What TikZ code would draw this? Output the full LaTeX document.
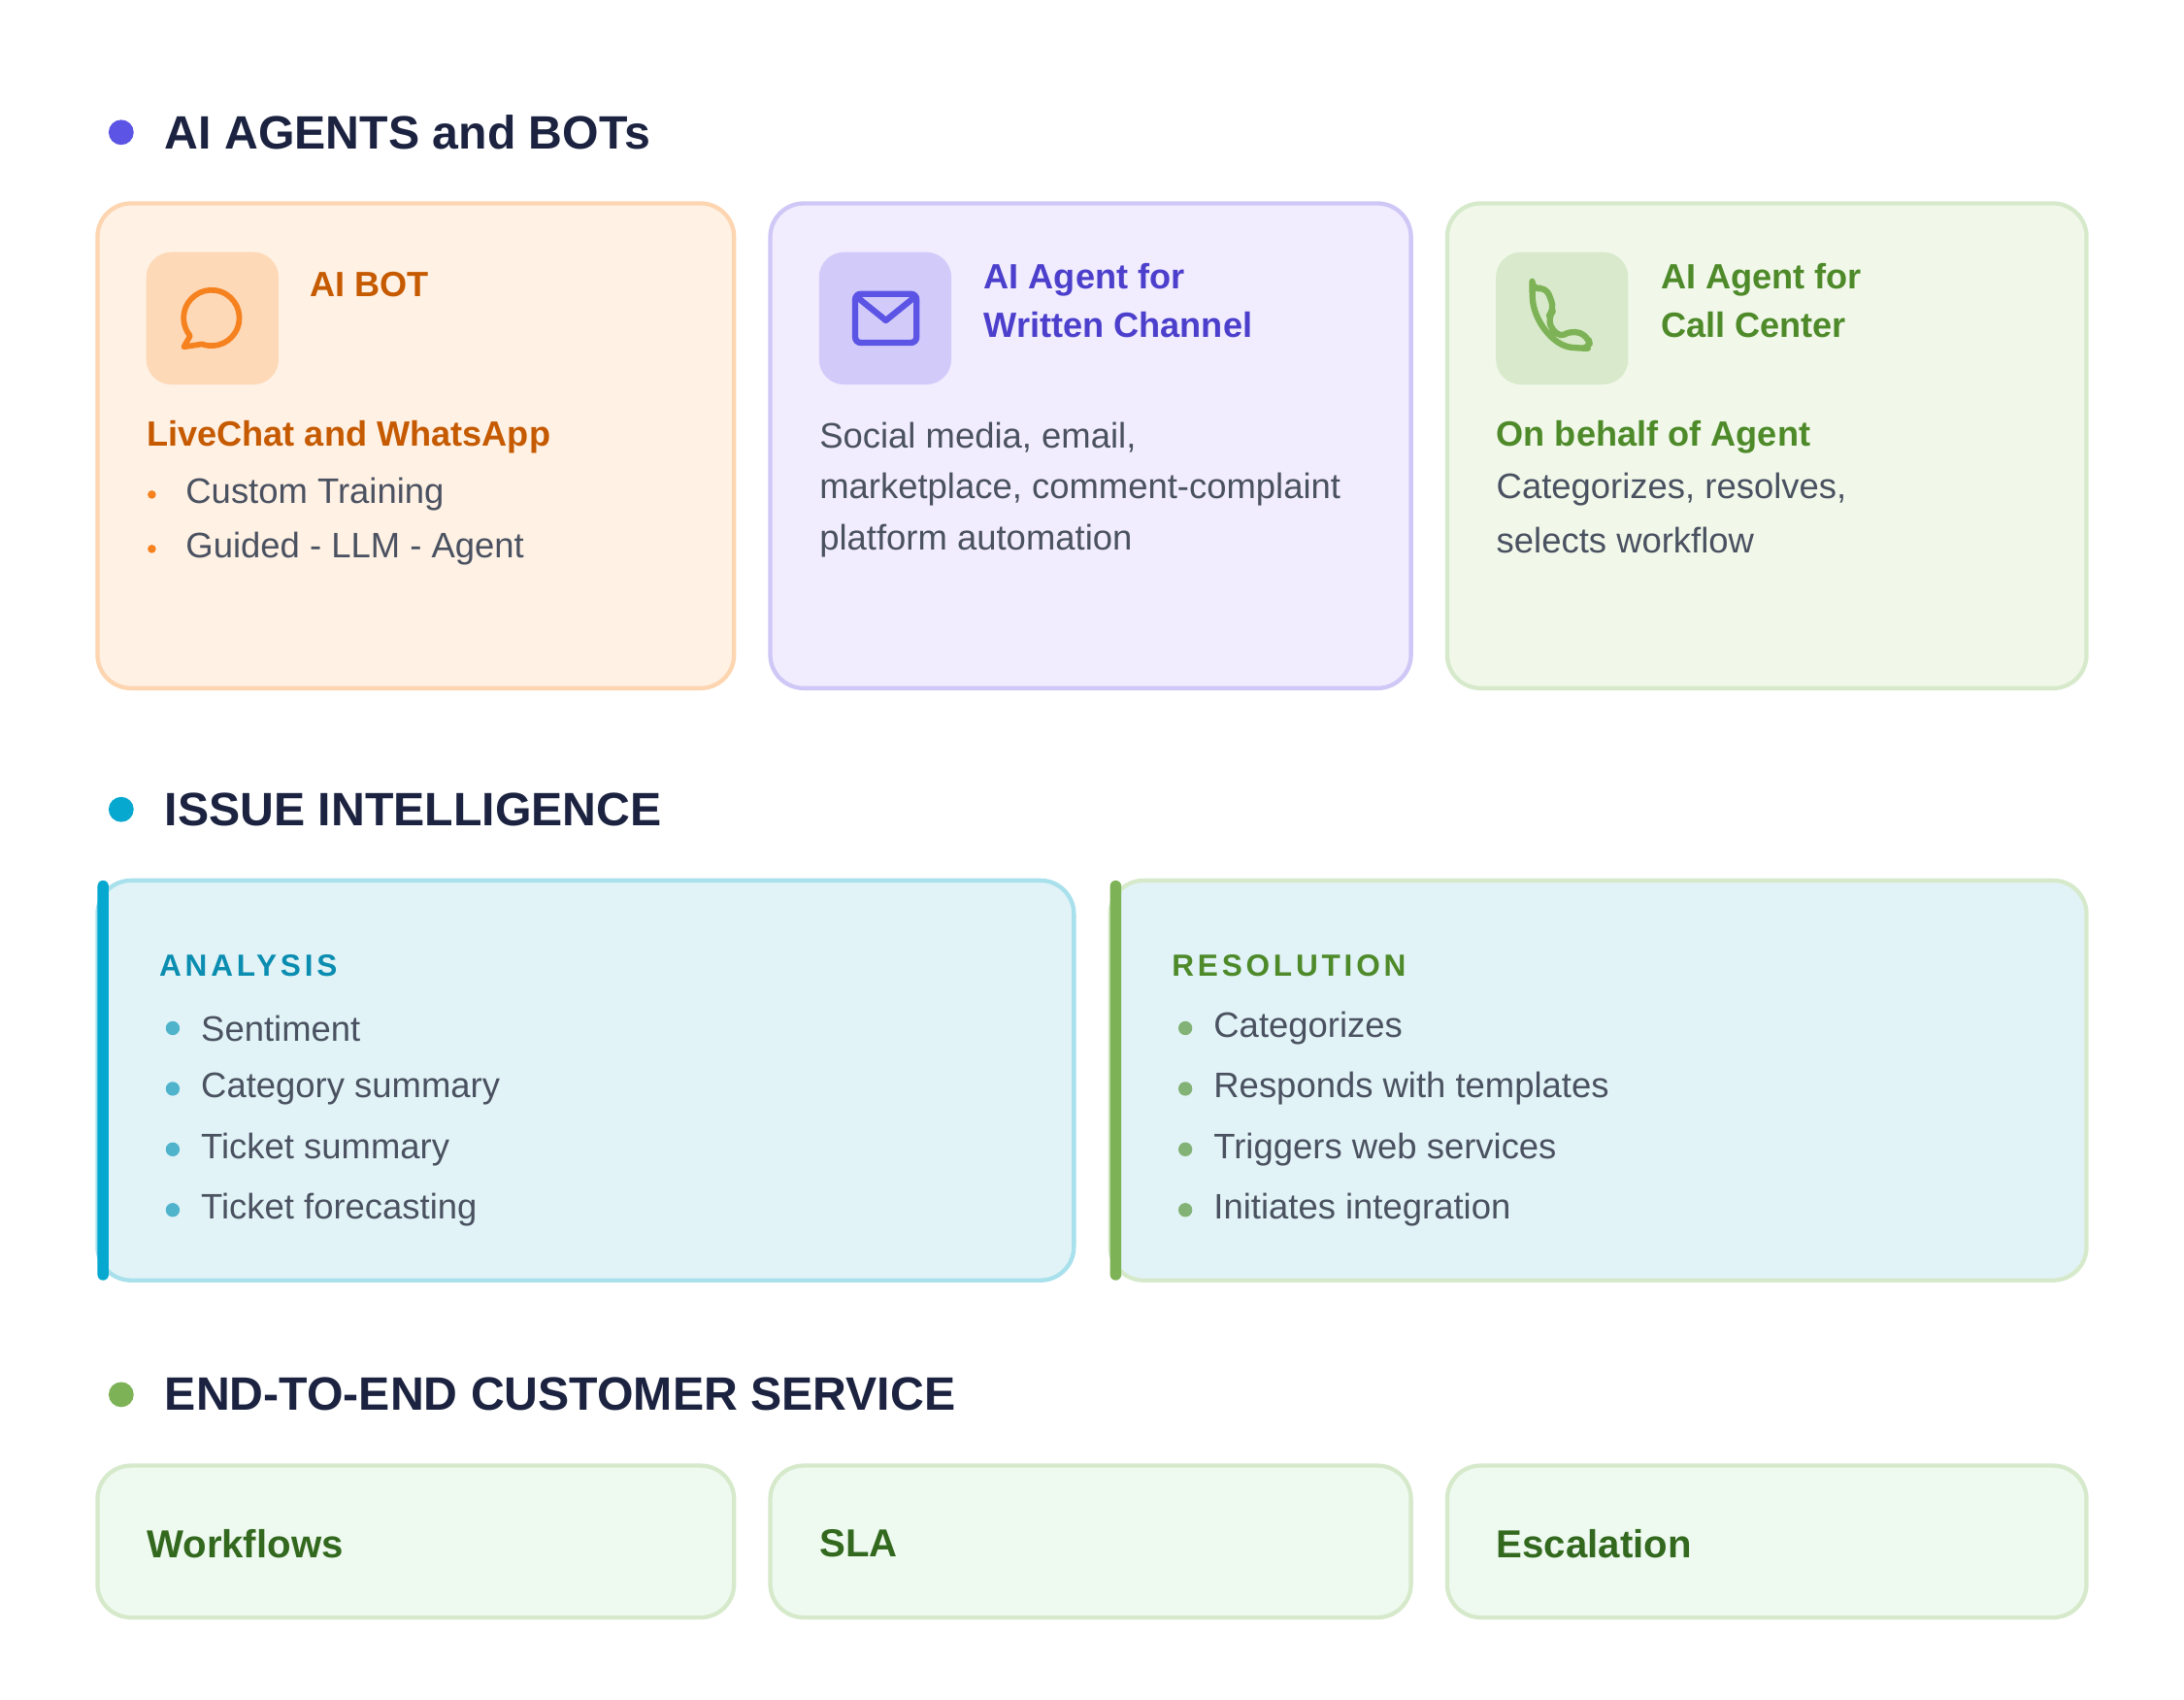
\documentclass[tikz,border=0pt]{standalone}
\usepackage{fontspec}
\setmainfont{Liberation Sans}
\usetikzlibrary{positioning}

\definecolor{headc}{HTML}{1C2340}
\definecolor{textc}{HTML}{4A5160}
\definecolor{orfill}{HTML}{FFF1E4}
\definecolor{ordraw}{HTML}{FDD5B0}
\definecolor{oricon}{HTML}{FDD9B8}
\definecolor{orline}{HTML}{F5821F}
\definecolor{ortext}{HTML}{C55A00}
\definecolor{pufill}{HTML}{F1ECFE}
\definecolor{pudraw}{HTML}{CFC8F7}
\definecolor{puicon}{HTML}{D2CBFA}
\definecolor{puline}{HTML}{5B54E5}
\definecolor{putext}{HTML}{4B3FCC}
\definecolor{grfill}{HTML}{F1F8EA}
\definecolor{grdraw}{HTML}{D6EACB}
\definecolor{gricon}{HTML}{D8EACB}
\definecolor{grline}{HTML}{7DB356}
\definecolor{grtext}{HTML}{4E8A2A}
\definecolor{cyfill}{HTML}{E1F3F7}
\definecolor{cydraw}{HTML}{A8E0EC}
\definecolor{cybar}{HTML}{06A8D0}
\definecolor{cytext}{HTML}{0A8DB0}
\definecolor{cydot}{HTML}{4FB3CC}
\definecolor{gndot}{HTML}{83B277}
\definecolor{e2efill}{HTML}{EEFAF0}
\definecolor{e2etext}{HTML}{33691E}

\tikzset{
  card/.style={rounded corners=12pt, line width=1.5pt},
  iconbox/.style={rounded corners=9pt},
  heading/.style={anchor=west, font=\fontsize{16.8}{19}\selectfont\bfseries, text=headc, inner sep=0},
  title/.style={anchor=west, font=\fontsize{12.6}{15}\selectfont\bfseries, inner sep=0},
  body/.style={anchor=west, font=\fontsize{12.7}{15}\selectfont, text=textc, inner sep=0},
  label/.style={anchor=west, font=\fontsize{11}{14}\selectfont\bfseries, inner sep=0},
  bigtxt/.style={anchor=west, font=\fontsize{14}{17}\selectfont\bfseries, text=e2etext, inner sep=0},
}

\begin{document}
\begin{tikzpicture}[x=0.5pt, y=-0.5pt]
  \useasboundingbox[fill=white] (0,0) rectangle (1568,1219.6);

  % Headings
  \fill[puline] (87,95) circle (9);
  \node[heading] (h1) at (118,95) {AI AGENTS and BOTs};
  \fill[cybar] (87,581) circle (9);
  \node[heading] (h2) at (118,581) {ISSUE INTELLIGENCE};
  \fill[grline] (87,1001) circle (9);
  \node[heading] (h3) at (118,1001) {END-TO-END CUSTOMER SERVICE};

  % Row 1 cards
  \draw[card, fill=orfill, draw=ordraw] (70,146) rectangle (527,494);
  \draw[card, fill=pufill, draw=pudraw] (553,146) rectangle (1013,494);
  \draw[card, fill=grfill, draw=grdraw] (1039,146) rectangle (1498,494);
  \fill[iconbox, oricon] (105,181) rectangle (200,276);
  \fill[iconbox, puicon] (588,181) rectangle (683,276);
  \fill[iconbox, gricon] (1074,181) rectangle (1169,276);

  % Icons
  \draw[orline, line width=2pt, line join=round]
    (145,247) arc[start angle=110, end angle=-220, radius=20] -- (132,249) -- cycle;
  \draw[puline, line width=2.2pt, rounded corners=2pt] (614,211) rectangle (658,246);
  \draw[puline, line width=2.2pt, line join=round] (615,213) -- (636,230) -- (657,213);
  \draw[grline, line width=2.2pt, line join=round, rounded corners=3pt]
    (1100,208) -- (1110,206) -- (1116,222) -- (1111,228)
    .. controls (1115,238) and (1120,242) .. (1128,237)
    -- (1140,241) -- (1142,250) -- (1134,250)
    .. controls (1115,248) and (1101,230) .. cycle;

  % Card texts
  \node[title, text=ortext] (botT) at (222,204) {AI BOT};
  \node[title, text=ortext] (botS) at (105,314) {LiveChat and WhatsApp};
  \fill[orline] (109,355) circle (3);
  \node[body] (bot1) at (133,355) {Custom Training};
  \fill[orline] (109,394) circle (3);
  \node[body] (bot2) at (133,394) {Guided - LLM - Agent};

  \node[title, text=putext] (wrT1) at (706,201) {AI Agent for};
  \node[title, text=putext] (wrT2) at (706,233) {Written Channel};
  \node[body] (wrP1) at (588,314) {Social media, email,};
  \node[body] (wrP2) at (588,351) {marketplace, comment-complaint};
  \node[body] (wrP3) at (588,388) {platform automation};

  \node[title, text=grtext] (ccT1) at (1192,201) {AI Agent for};
  \node[title, text=grtext] (ccT2) at (1192,233) {Call Center};
  \node[title, text=grtext] (ccS) at (1074,314) {On behalf of Agent};
  \node[body] (ccP1) at (1074,351) {Categorizes, resolves,};
  \node[body] (ccP2) at (1074,388) {selects workflow};

  % Row 2 cards
  \draw[card, fill=cyfill, draw=cydraw] (70,632) rectangle (771,919);
  \fill[cybar, rounded corners=2pt] (70,632) rectangle (78,919);
  \draw[card, fill=cyfill, draw=grdraw] (797,632) rectangle (1498,919);
  \fill[grline, rounded corners=2pt] (797,632) rectangle (805,919);

  \node[label, text=cytext] (anL) at (114,693) {\addfontfeature{LetterSpace=12}ANALYSIS};
  \foreach \t [count=\i] in {Sentiment, Category summary, Ticket summary, Ticket forecasting} {
    \fill[cydot] (124,{738+43.5*(\i-1)}) circle (5);
    \node[body] (an\i) at (144,{738+43.5*(\i-1)}) {\t};
  }
  \node[label, text=grtext] (reL) at (841,693) {\addfontfeature{LetterSpace=12}RESOLUTION};
  \foreach \t [count=\i] in {Categorizes, Responds with templates, Triggers web services, Initiates integration} {
    \fill[gndot] (851,{738+43.5*(\i-1)}) circle (5);
    \node[body] (re\i) at (871,{738+43.5*(\i-1)}) {\t};
  }

  % Row 3 cards
  \draw[card, fill=e2efill, draw=grdraw] (70,1052) rectangle (527,1161);
  \draw[card, fill=e2efill, draw=grdraw] (553,1052) rectangle (1013,1161);
  \draw[card, fill=e2efill, draw=grdraw] (1039,1052) rectangle (1498,1161);
  \node[bigtxt] (wf) at (105,1108) {Workflows};
  \node[bigtxt] (sla) at (588,1108) {SLA};
  \node[bigtxt] (esc) at (1074,1108) {Escalation};
\end{tikzpicture}
\end{document}
